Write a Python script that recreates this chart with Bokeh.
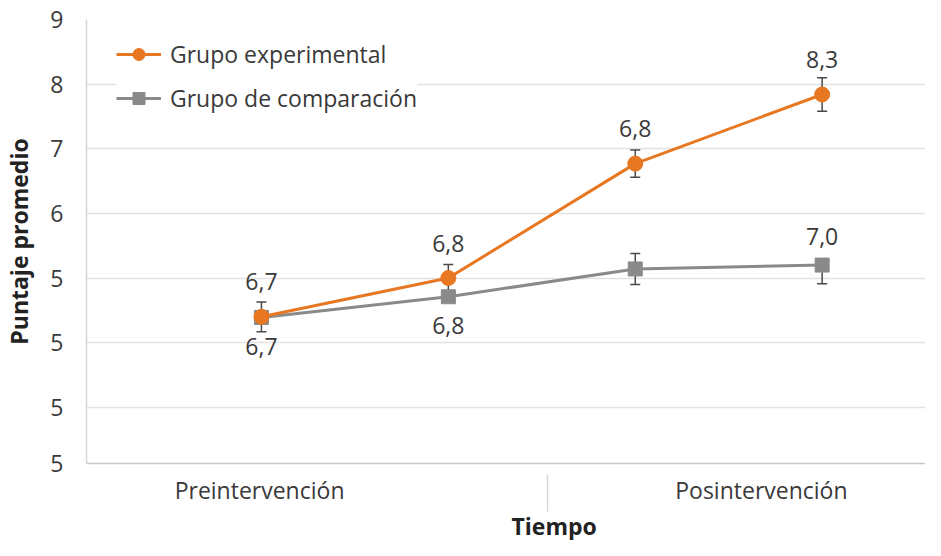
from bokeh.plotting import figure
from bokeh.models import (ColumnDataSource, Range1d, FixedTicker, Whisker, TeeHead,
                          Title, Legend)
from bokeh.core.properties import value
from bokeh.embed import file_html
from bokeh.resources import INLINE

# ---------------- data ----------------
session = [1, 2, 3, 4]
exp_mean = [4.40, 5.00, 6.77, 7.84]
exp_err = [0.23, 0.21, 0.21, 0.26]
exp_labels = ["6,7", "6,8", "6,8", "8,3"]

comp_mean = [4.39, 4.71, 5.14, 5.20]
comp_err_up = [0.05, 0.05, 0.24, 0.05]
comp_err_down = [0.05, 0.05, 0.24, 0.29]
comp_labels = ["6,7", "6,8", "", "7,0"]
comp_label_side = [1, 1, 0, -1]   # 1 = below, -1 = above

y_ticks = [9, 8, 7, 6, 5, 4, 3, 2.13]
y_tick_labels = ["9", "8", "7", "6", "5", "5", "5", "5"]
phase_ticks = [0.99, 3.675]
phase_labels = ["Preintervención", "Posintervención"]
phase_divider = [2.53]

FONT = "Open Sans"
TXT = "#3a3a3a"
ORANGE = "#E87722"
GRAY = "#8a8a8a"

src_e = ColumnDataSource(dict(
    x=session, y=exp_mean,
    upper=[m + e for m, e in zip(exp_mean, exp_err)],
    lower=[m - e for m, e in zip(exp_mean, exp_err)],
    lab=exp_labels, off=[-35] * len(session)))
src_c = ColumnDataSource(dict(
    x=session, y=comp_mean,
    upper=[m + e for m, e in zip(comp_mean, comp_err_up)],
    lower=[m - e for m, e in zip(comp_mean, comp_err_down)],
    lab=comp_labels, off=[s * 29 for s in comp_label_side]))

p = figure(width=925, height=540, output_backend="svg", toolbar_location=None,
           x_range=Range1d(0.064, 4.553), y_range=Range1d(y_ticks[-1], y_ticks[0]),
           min_border_left=0, min_border_right=0, min_border_top=19,
           min_border_bottom=0)
p.outline_line_color = None
p.background_fill_color = "white"

# y axis
p.yaxis.ticker = FixedTicker(ticks=y_ticks)
p.yaxis.major_label_overrides = {t: l for t, l in zip(y_ticks, y_tick_labels)}
p.yaxis.major_tick_line_color = None
p.yaxis.minor_tick_line_color = None
p.yaxis.axis_line_color = "#d6d6d6"
p.yaxis.axis_line_width = 1.5
p.yaxis.major_label_text_font = FONT
p.yaxis.major_label_text_font_size = "23px"
p.yaxis.major_label_text_color = TXT
p.yaxis.major_label_standoff = 17
p.yaxis.axis_label = "Puntaje promedio"
p.yaxis.axis_label_text_font = FONT
p.yaxis.axis_label_text_font_size = "23px"
p.yaxis.axis_label_text_font_style = "bold"
p.yaxis.axis_label_text_color = "#222222"
p.yaxis.axis_label_standoff = 12
p.ygrid.grid_line_color = "#e2e2e2"
p.ygrid.grid_line_width = 1.5

# x axis
p.xaxis.ticker = FixedTicker(ticks=phase_ticks, minor_ticks=phase_divider)
p.xaxis.major_label_overrides = {t: l for t, l in zip(phase_ticks, phase_labels)}
p.xaxis.major_tick_line_color = None
p.xaxis.minor_tick_in = -11
p.xaxis.minor_tick_out = 48
p.xaxis.minor_tick_line_color = "#d8d8d8"
p.xaxis.minor_tick_line_width = 1.5
p.xaxis.axis_line_color = "#c8c8c8"
p.xaxis.axis_line_width = 1.5
p.xaxis.major_label_text_font = FONT
p.xaxis.major_label_text_font_size = "23px"
p.xaxis.major_label_text_color = TXT
p.xaxis.major_label_standoff = -38
p.xgrid.visible = False

# x axis title, shifted to the right as in the original
p.add_layout(Title(text="Tiempo", align="left", offset=425, text_font=FONT,
                   text_font_size="23px", text_font_style="bold",
                   text_color="#222222", standoff=-2), "below")

# error bars
for src in (src_c, src_e):
    w = Whisker(base="x", upper="upper", lower="lower", source=src, dimension="height",
                line_color="#4a4a4a", line_width=1.5, level="underlay",
                upper_head=TeeHead(size=10, line_color="#4a4a4a", line_width=1.5),
                lower_head=TeeHead(size=10, line_color="#4a4a4a", line_width=1.5))
    p.add_layout(w)

# comparison group
lc = p.line("x", "y", source=src_c, line_color=GRAY, line_width=3)
sc = p.scatter("x", "y", source=src_c, marker="square", size=14, fill_color=GRAY,
               line_color=GRAY)
# experimental group
le = p.line("x", "y", source=src_e, line_color=ORANGE, line_width=3)
se = p.scatter("x", "y", source=src_e, marker="circle", size=15, fill_color=ORANGE,
               line_color=ORANGE)

# value labels
for src in (src_e, src_c):
    p.text("x", "y", text="lab", source=src, y_offset="off", text_align="center",
           text_baseline="middle", text_font=value(FONT), text_font_size="23px",
           text_color=TXT)

legend = Legend(items=[("Grupo experimental", [le, se]),
                       ("Grupo de comparación", [lc, sc])],
                location=(30, 349), margin=0, padding=10, spacing=12,
                glyph_width=45, glyph_height=30, label_height=30, label_standoff=9,
                label_text_font=FONT, label_text_font_size="23px",
                label_text_color=TXT, border_line_color=None,
                background_fill_color="white", background_fill_alpha=1.0)
p.add_layout(legend)

open("out.html", "w").write(file_html(p, INLINE))
